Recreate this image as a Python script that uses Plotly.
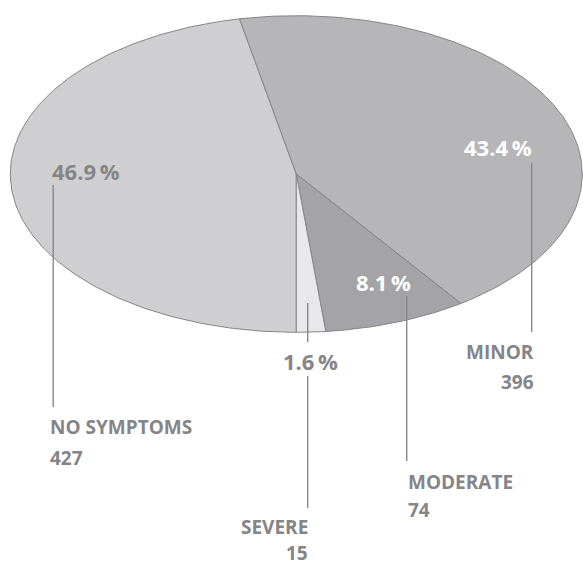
import numpy as np
import plotly.graph_objects as go

# ---- data ----
categories = ["NO SYMPTOMS", "MINOR", "MODERATE", "SEVERE"]
counts = [427, 396, 74, 15]
pct_labels = ["46.9", "43.4", "8.1", "1.6"]

# ---- style / layout constants ----
W, H = 583, 567
CX, CY, RX, RY = 296.3, 174.0, 286.0, 158.3
fills = ["#cfcfd1", "#b6b6b8", "#a4a4a8", "#e8e8ea"]
edge = "#858587"
txt_gray = "#858588"
FONT = "Open Sans"

fig = go.Figure()

vals = np.array(counts, dtype=float)
frac = vals / vals.sum()
starts = np.concatenate([[0], np.cumsum(frac)[:-1]]) * 2 * np.pi
ends = np.cumsum(frac) * 2 * np.pi

for name, a0, a1, col in zip(categories, starts, ends, fills):
    t = np.linspace(a0, a1, max(int((a1 - a0) / (2 * np.pi) * 400), 8))
    xs = np.concatenate([[CX], CX - RX * np.sin(t), [CX]])
    ys = np.concatenate([[CY], CY + RY * np.cos(t), [CY]])
    fig.add_trace(go.Scatter(x=xs, y=ys, mode="lines", fill="toself",
                             fillcolor=col, line=dict(color=edge, width=1),
                             name=name, hoverinfo="name", showlegend=False))

# leader lines (x, y0, y1) in pixel-like axis units
leaders = [
    (53.2, 185, 407),    # no symptoms
    (531.7, 162.7, 332), # minor
    (406.7, 296, 461),   # moderate
    (307.7, 303, 342),   # severe upper
    (307.7, 376, 508),   # severe lower
]
for x, y0, y1 in leaders:
    fig.add_shape(type="line", x0=x, x1=x, y0=y0, y1=y1, xref="x", yref="y",
                  line=dict(color="#88888a", width=1.4), layer="above")

def ann(text, x, y, xanchor, color, size, yanchor="middle"):
    fig.add_annotation(x=x, y=y, xref="x", yref="y", text=text, showarrow=False,
                       xanchor=xanchor, yanchor=yanchor, borderpad=0,
                       font=dict(family=FONT, size=size, color=color, weight="bold"))

# percentage labels
pct_pos = [(51.3, 171, "left", txt_gray), (533, 147, "right", "white"),
           (383, 282, "center", "white"), (310.5, 361, "center", txt_gray)]
for p, (x, y, xa, c) in zip(pct_labels, pct_pos):
    ann(p + "\u2009%", x, y, xa, c, 22)

# category + count labels
cat_pos = [(49.3, 427, 458, "left"), (535, 352, 382, "right"),
           (406.7, 482, 510, "left"), (309.3, 527, None, "right")]
for name, n, (x, y1, y2, xa) in zip(categories, counts, cat_pos):
    ann(name, x, y1, xa, txt_gray, 19)
    if y2 is None:
        ann(str(n), x, H, xa, txt_gray, 19, yanchor="bottom")
    else:
        ann(str(n), x, y2, xa, txt_gray, 19)

fig.update_layout(
    width=W, height=H, margin=dict(l=0, r=0, t=0, b=0),
    paper_bgcolor="white", plot_bgcolor="white",
    xaxis=dict(range=[0, W], visible=False, fixedrange=True),
    yaxis=dict(range=[H, 0], visible=False, fixedrange=True),
    showlegend=False,
)
fig.write_html("out.html")
